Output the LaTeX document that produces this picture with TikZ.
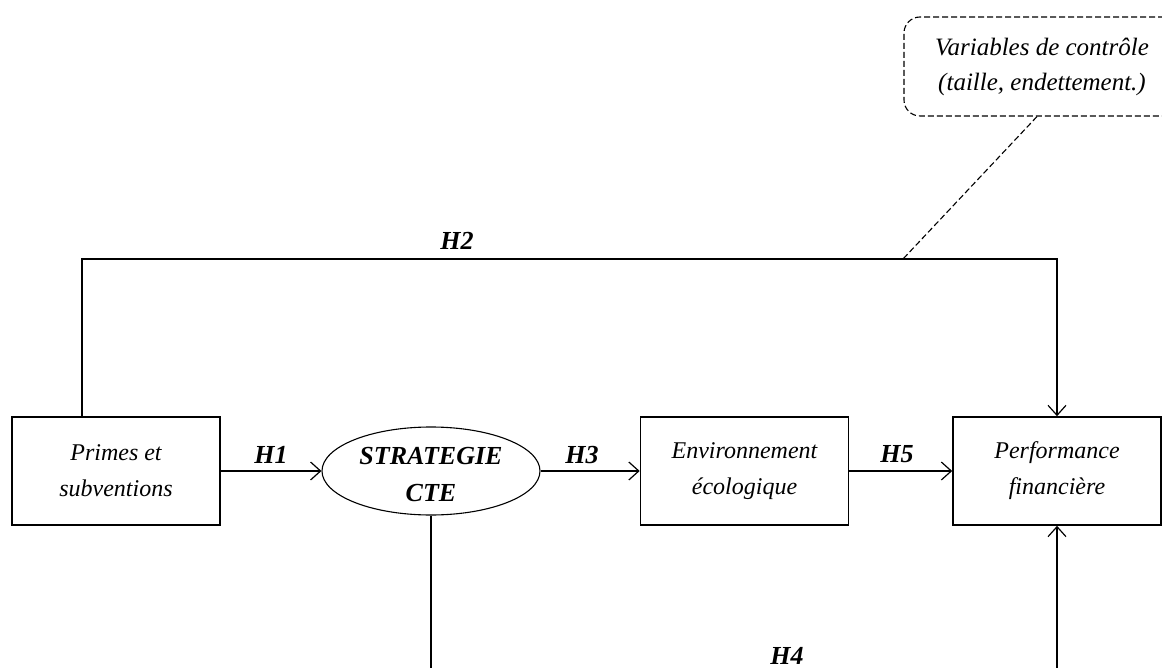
\documentclass[tikz,border=0pt]{standalone}
\usepackage{fontspec}
\setmainfont{Liberation Serif}
\usetikzlibrary{arrows.meta,shapes.geometric}
\begin{document}
\begin{tikzpicture}[x=1pt,y=-1pt,
  box/.style={draw, line width=1.6pt, minimum width=208pt, minimum height=108pt, inner sep=0pt, align=center, font=\fontsize{24}{36}\selectfont\itshape},
  hlabel/.style={font=\fontsize{26}{30}\selectfont\bfseries\itshape, inner sep=0pt},
  conn/.style={line width=1.6pt},
  arr/.style={conn, -{Straight Barb[length=10pt,width=18pt,line width=1.2pt]}},
  dashline/.style={line width=1.1pt, dash pattern=on 6pt off 3pt}
]
\useasboundingbox (0,0) rectangle (1162,668);
\clip (0,0) rectangle (1162,668);

\node[box] (primes) at (116,471) {Primes et\\subventions};
\node[ellipse, draw, line width=1.1pt, minimum width=218pt, minimum height=88pt, inner sep=0pt, align=center,
      font=\fontsize{26}{37}\selectfont\bfseries\itshape] (cte) at (431,471) {};
\node[font=\fontsize{26}{37}\selectfont\bfseries\itshape, align=center, inner sep=0pt] (ctetext) at (431,475) {STRATEGIE\\CTE};
\node[box] (env) at (744.5,471) {Environnement\\écologique};
\node[box] (perf) at (1057,471) {Performance\\financière};
\node[draw, dashline, rounded corners=16pt, minimum width=276pt, minimum height=99pt, inner sep=0pt, align=center,
      font=\fontsize{25}{35}\selectfont\itshape] (ctrl) at (1042,66.5) {Variables de contrôle\\(taille, endettement.)};

\node[hlabel] (h1) at (271,455) {H1};
\node[hlabel] (h2) at (457,241) {H2};
\node[hlabel] (h3) at (582,455) {H3};
\node[hlabel] (h5) at (897,454) {H5};
\node[hlabel] (h4) at (787,656) {H4};

\coordinate (h2l) at (82,259);
\coordinate (h2r) at (1057,259);
\coordinate (h2d) at (903,259);
\coordinate (b1) at (431,690);
\coordinate (b2) at (1057,690);

\draw[arr] ([xshift=-34pt]primes.north) -- (h2l) -- (h2r) -- (perf.north);
\draw[arr] (primes.east) -- (cte.west);
\draw[arr] (cte.east) -- (env.west);
\draw[arr] (env.east) -- (perf.west);
\draw[conn] (cte.south) -- (b1);
\draw[arr] (b2) -- (perf.south);
\draw[dashline] ([xshift=-5pt]ctrl.south) -- (h2d);
\end{tikzpicture}
\end{document}
